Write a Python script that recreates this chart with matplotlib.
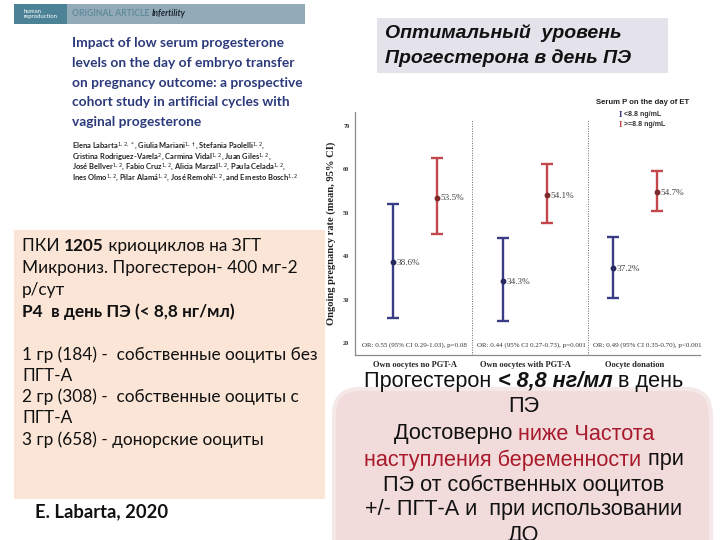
import matplotlib
matplotlib.use("Agg")
import matplotlib.pyplot as plt
from matplotlib.patches import Rectangle, FancyBboxPatch

# ---------------- data ----------------
groups = ["Own oocytes no PGT-A", "Own oocytes with PGT-A", "Oocyte donation"]
low_mean = [38.6, 34.3, 37.2]
low_lo = [25.7, 25.1, 30.4]
low_hi = [51.9, 44.1, 44.5]
high_mean = [53.5, 54.1, 54.7]
high_lo = [45.0, 47.6, 50.4]
high_hi = [62.7, 61.2, 59.6]
or_texts = ["OR: 0.55 (95% CI 0.29-1.03), p=0.08",
            "OR: 0.44 (95% CI 0.27-0.73), p=0.001",
            "OR: 0.49 (95% CI 0.35-0.70), p<0.001"]
yticks = [20, 30, 40, 50, 60, 70]
legend_labels = ["<8.8 ng/mL", ">=8.8 ng/mL"]

BLUE = "#3a3c86"
RED = "#c4474b"
DRED = "#a8192b"
SERIF = "Liberation Serif"
SANS = "Liberation Sans"

fig = plt.figure(figsize=(7.2, 5.4), dpi=100)
fig.patch.set_facecolor("white")

# overlay in pixel coordinates (origin top-left)
ov = fig.add_axes([0, 0, 1, 1], zorder=0)
ov.set_xlim(0, 720)
ov.set_ylim(540, 0)
ov.axis("off")
R = fig.canvas.get_renderer()


def width_of(s, **kw):
    t1 = ov.text(0, 0, "|" + s + "|", **kw)
    t2 = ov.text(0, 0, "||", **kw)
    w = t1.get_window_extent(R).width - t2.get_window_extent(R).width
    t1.remove(); t2.remove()
    return w


def runs(x, y, parts, ha="left", **common):
    ws = [width_of(s, **common, **kw) for s, kw in parts]
    total = sum(ws)
    cur = x - total / 2 if ha == "center" else x
    for (s, kw), w in zip(parts, ws):
        ov.text(cur, y, s, va="center", ha="left", **common, **kw)
        cur += w


# ---------------- article header (top-left) ----------------
ov.add_patch(Rectangle((14, 4), 291, 20, color="#93abb9", lw=0))
ov.add_patch(Rectangle((14, 4), 53, 20, color="#4c8296", lw=0))
ov.text(24, 14, "human\nreproduction", color="white", fontsize=4.3, va="center",
        ha="left", family="Lato", linespacing=0.9)
runs(72, 14, [("ORIGINAL ARTICLE ", dict(color="#5f8b9b", fontweight="bold")),
              ("Infertility", dict(color="#1c2630", fontweight="bold", style="italic"))],
     fontsize=6.2, family="Lato")
title_lines = ["Impact of low serum progesterone",
               "levels on the day of embryo transfer",
               "on pregnancy outcome: a prospective",
               "cohort study in artificial cycles with",
               "vaginal progesterone"]
for i, s in enumerate(title_lines):
    ov.text(72, 43 + i * 19.8, s, color="#2c3a7c", fontsize=9.9, fontweight="bold",
            family="Lato", va="center", ha="left")
authors = [r"Elena Labarta$^{1,2,*}$, Giulia Mariani$^{1,\dagger}$, Stefania Paolelli$^{1,2}$,",
           r"Cristina Rodriguez-Varela$^{2}$, Carmina Vidal$^{1,2}$, Juan Giles$^{1,2}$,",
           r"José Bellver$^{1,2}$, Fabio Cruz$^{1,2}$, Alicia Marzal$^{1,2}$, Paula Celada$^{1,2}$,",
           r"Ines Olmo$^{1,2}$, Pilar Alamá$^{1,2}$, José Remohí$^{1,2}$, and Ernesto Bosch$^{1,2}$"]
for i, s in enumerate(authors):
    ov.text(72, 146 + i * 10.8, s, color="#222222", fontsize=5.4, fontweight="bold",
            family="Lato", va="center", ha="left")

# ---------------- beige box ----------------
ov.add_patch(Rectangle((14, 230), 311, 269, color="#fbe5d6", lw=0))
FL = ["Lato", "Liberation Sans"]
fs = 12.4
runs(22, 246, [("ПКИ ", {}), ("1205", dict(fontweight="bold")), (" криоциклов на ЗГТ", {})],
     fontsize=fs, family=FL, color="#111111")
ov.text(22, 268, "Микрониз. Прогестерон- 400 мг-2", fontsize=fs, family=FL,
        color="#111111", va="center")
ov.text(22, 290, "р/сут", fontsize=fs, family=FL, color="#111111", va="center")
ov.text(22, 312, "P4  в день ПЭ (< 8,8 нг/мл)", fontsize=fs, family=FL,
        fontweight="bold", color="#111111", va="center")
body = [(355, "1 гр (184) -  собственные ооциты без"),
        (376, "ПГТ-А"),
        (397, "2 гр (308) -  собственные ооциты с"),
        (418, "ПГТ-А"),
        (440, "3 гр (658) - донорские ооциты")]
for y, s in body:
    ov.text(22, y, s, fontsize=fs, family=FL, color="#111111", va="center")
ov.text(35, 512, "E. Labarta, 2020", fontsize=13.2, family="Lato", fontweight="bold",
        color="#111111", va="center")

# ---------------- grey title box ----------------
ov.add_patch(Rectangle((377, 18), 291, 55, color="#e4e2ea", lw=0))
for y, s in [(33, "Оптимальный  уровень"), (58, "Прогестерона в день ПЭ")]:
    ov.text(385, y, s, fontsize=14.0, family=SANS, fontweight="bold", style="italic",
            color="#111111", va="center")

# ---------------- pink conclusion box ----------------
ov.add_patch(FancyBboxPatch((334, 389), 377, 200,
                            boxstyle="round,pad=0,rounding_size=26",
                            facecolor="#f1dbdb", edgecolor="#f5e8e8", lw=3))
pfs = 15.6
cx = 524
runs(cx, 381, [("Прогестерон ", {}),
               ("< 8,8 нг/мл", dict(fontweight="bold", style="italic")),
               (" в день", {})], ha="center", fontsize=pfs, family=SANS, color="#111111")
runs(cx, 406, [("ПЭ", {})], ha="center", fontsize=pfs, family=SANS, color="#111111")
runs(cx, 434, [("Достоверно ", dict(color="#111111")), ("ниже Частота", dict(color=DRED))],
     ha="center", fontsize=pfs, family=SANS)
runs(cx, 460, [("наступления беременности", dict(color=DRED)), (" при", dict(color="#111111"))],
     ha="center", fontsize=pfs, family=SANS)
runs(cx, 485, [("ПЭ от собственных ооцитов", {})], ha="center", fontsize=pfs,
     family=SANS, color="#111111")
runs(cx, 510, [("+/- ПГТ-А и  при использовании", {})], ha="center", fontsize=pfs,
     family=SANS, color="#111111")
runs(cx, 536, [("ДО", {})], ha="center", fontsize=pfs, family=SANS, color="#111111")

# ---------------- chart ----------------
ax = fig.add_axes([355 / 720, 1 - 355 / 540, 345 / 720, 243 / 540], zorder=2)
ax.set_facecolor("none")
ax.set_xlim(0.455, 3.59)
ax.set_ylim(17.24, 73.2)
xc = [1, 2, 3]
dx = 0.2
xl = [x - dx for x in xc]
xh = [x + dx for x in xc]
ax.errorbar(xl, low_mean,
            yerr=[[m - l for m, l in zip(low_mean, low_lo)], [h - m for m, h in zip(low_mean, low_hi)]],
            fmt="o", color=BLUE, mfc="#262a60", mec="#262a60", ms=3.2,
            capsize=4.6, elinewidth=1.7, capthick=1.7)
ax.errorbar(xh, high_mean,
            yerr=[[m - l for m, l in zip(high_mean, high_lo)], [h - m for m, h in zip(high_mean, high_hi)]],
            fmt="o", color=RED, mfc="#7c2a2c", mec="#7c2a2c", ms=3.2,
            capsize=4.6, elinewidth=1.7, capthick=1.7)
for x, v in list(zip(xl, low_mean)) + list(zip(xh, high_mean)):
    ax.annotate(f"{v}%", (x, v), xytext=(2.6, -0.5), textcoords="offset points",
                va="center", ha="left", family=SERIF, fontsize=6.6, color="#444444")
for xs in (1.52, 2.57):
    ax.vlines(xs, 17.24, 71.4, linestyles=(0, (1, 1.5)), colors="#666666", lw=0.7)
for x, s in zip((0.52, 1.565, 2.62), or_texts):
    ax.text(x, 19.55, s, family=SERIF, fontsize=5.0, color="#333333", va="center", ha="left")

ax.set_yticks(yticks)
ax.set_yticklabels([str(v) for v in yticks], family=SERIF, fontsize=4.5,
                   fontweight="bold", color="#333333")
ax.set_xticks(xc)
ax.set_xticklabels(groups, family=SERIF, fontsize=6.0, fontweight="bold", color="#222222")
ax.tick_params(axis="y", length=0, pad=4)
ax.tick_params(axis="x", length=0, pad=4.5)
for sp in ("top", "right"):
    ax.spines[sp].set_visible(False)
for sp in ("left", "bottom"):
    ax.spines[sp].set_color("#8a8a8a")
    ax.spines[sp].set_linewidth(0.9)
ax.set_ylabel("Ongoing pregnancy rate (mean, 95% CI)", family=SERIF, fontsize=7.6,
              fontweight="bold", color="#222222", labelpad=5)

# legend (drawn as text in pixel space)
ov.text(643, 103, "Serum P on the day of ET", family=SANS, fontsize=5.6,
        fontweight="bold", color="#222222", ha="center", va="center")
for y, lab, col in [(115, legend_labels[0], BLUE), (125, legend_labels[1], RED)]:
    ov.text(620, y, "I", family=SERIF, fontsize=6.5, fontweight="bold", color=col,
            ha="center", va="center")
    ov.text(624, y, lab, family=SANS, fontsize=5.0, fontweight="bold", color="#333333",
            ha="left", va="center")

fig.savefig("out.png", dpi=100, facecolor="white")
